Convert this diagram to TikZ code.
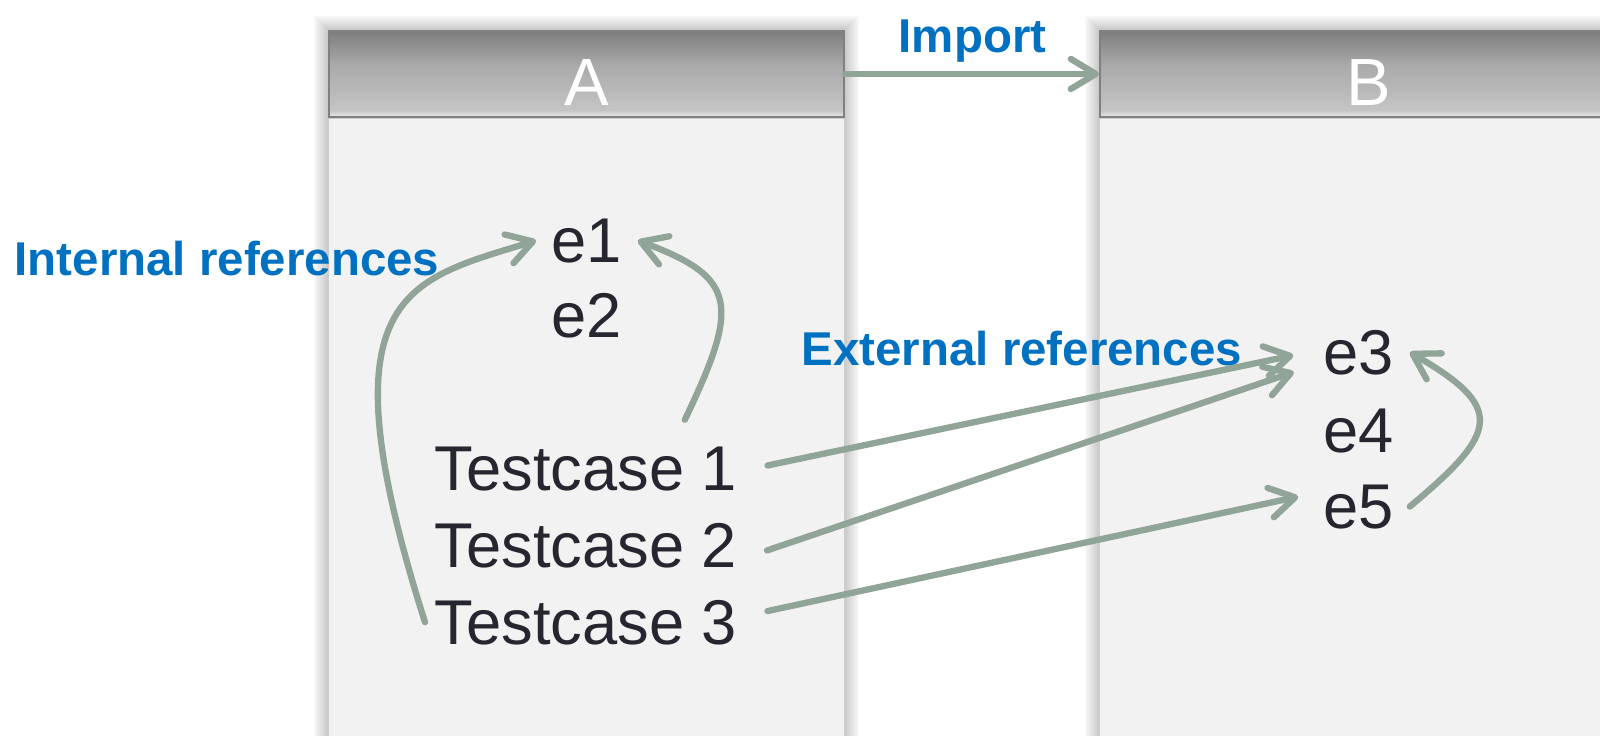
\documentclass[tikz,border=0pt]{standalone}
\usepackage{fontspec}
\setmainfont{Liberation Sans}
\usetikzlibrary{arrows.meta, positioning, backgrounds}
\usepackage{xcolor}
\definecolor{refgreen}{RGB}{144,164,152}
\definecolor{labelblue}{RGB}{0,112,192}
\definecolor{itemink}{RGB}{38,38,48}
\definecolor{panelfill}{RGB}{242,242,242}
\definecolor{hdrtop}{RGB}{125,125,125}
\definecolor{hdrmid}{RGB}{170,170,170}
\definecolor{hdrlow}{RGB}{196,196,196}
\definecolor{hdrbot}{RGB}{233,233,233}
\pgfdeclareverticalshading{hdrshade}{100bp}{color(0bp)=(hdrbot); color(25bp)=(hdrbot); color(29bp)=(hdrlow); color(55bp)=(hdrmid); color(75bp)=(hdrtop); color(100bp)=(hdrtop)}

\begin{document}
\begin{tikzpicture}[
        panel/.style={rectangle, fill=panelfill, minimum width=5.15cm, minimum height=6.8cm, inner sep=0pt},
        hdr/.style={rectangle, draw=black!50, line width=0.6pt, shading=hdrshade, minimum width=5.15cm, minimum height=0.86cm, inner sep=0pt, text height=0.64cm, text=white, font=\fontsize{19}{22}\selectfont},
        item/.style={anchor=base west, inner xsep=1.5mm, inner ysep=0.6mm, text=itemink, font=\fontsize{18}{21}\selectfont},
        lbl/.style={anchor=base west, inner sep=0pt, text=labelblue, font=\bfseries\fontsize{13.5}{16}\selectfont},
        ref/.style={draw=refgreen, line width=1.8pt, line cap=round, -{Straight Barb[length=2.5mm, width=3mm, round]}}
    ]
        \useasboundingbox (0,0) rectangle (16,7.35);

        % panels
        \node[panel, anchor=north] (pA) at (5.865,6.17) {};
        \node[hdr, anchor=south] (hA) at (pA.north) {A};
        \node[panel, anchor=north, minimum width=5.38cm] (pB) at (13.69,6.17) {};
        \node[hdr, anchor=south, minimum width=5.38cm] (hB) at (pB.north) {B};

        \begin{scope}[on background layer]
            \foreach \p/\h in {pA/hA, pB/hB}
                \foreach \s in {0.02,0.04,...,0.14}
                    \fill[black, opacity=0.03] ([shift={(-\s,-\s)}]\p.south west) rectangle ([shift={(\s,\s)}]\h.north east);
        \end{scope}

        % elements
        \node[item] (e1) at (5.36,4.73) {e1};
        \node[item] (e2) at (5.36,3.98) {e2};
        \node[item] (tc1) at (4.19,2.45) {Testcase 1};
        \node[item] (tc2) at (4.19,1.68) {Testcase 2};
        \node[item] (tc3) at (4.19,0.91) {Testcase 3};
        \node[item] (e3) at (13.08,3.61) {e3};
        \node[item] (e4) at (13.08,2.83) {e4};
        \node[item] (e5) at (13.08,2.07) {e5};

        % labels
        \node[lbl] (imp) at (8.98,6.83) {Import};
        \node[lbl] (intref) at (0.14,4.60) {Internal references};
        \node[lbl] (extref) at (8.01,3.70) {External references};

        % references
        \draw[ref] (hA.east) -- (hB.west);
        \draw[ref] ([xshift=0.6mm]tc3.west) .. controls +(-1.05,3.3) and +(-1.3,-0.4) .. (e1.west);
        \draw[ref] ([shift={(-0.68,0.20)}]tc1.north east) .. controls +(0.55,1.15) and +(1.0,-0.37) .. (e1.east);
        \draw[ref, shorten <=1.5mm, shorten >=1.5mm] (tc1.east) -- (e3.west);
        \draw[ref, shorten <=1.5mm, shorten >=1.5mm] ([yshift=-1mm]tc2.east) -- ([yshift=-1.5mm]e3.west);
        \draw[ref, shorten <=1.5mm, shorten >=1mm] ([yshift=0.8mm]tc3.east) -- ([yshift=1.2mm]e5.west);
        \draw[ref] (e5.east) .. controls +(0.9,0.75) and +(0.95,-0.55) .. (e3.east);
    \end{tikzpicture}
\end{document}
